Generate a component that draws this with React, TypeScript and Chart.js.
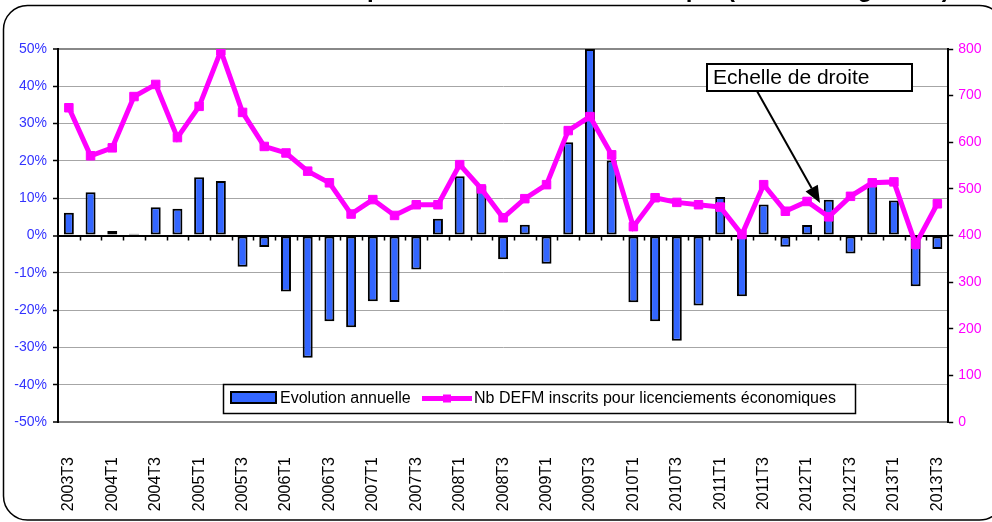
import React, { useEffect, useRef } from 'react';
import { Chart, registerables } from 'chart.js';

Chart.register(...registerables);

const FONT = "'Liberation Sans', Arial, Helvetica, sans-serif";

const quarters = [
  '2003T3', '2003T4', '2004T1', '2004T2', '2004T3', '2004T4', '2005T1', '2005T2',
  '2005T3', '2005T4', '2006T1', '2006T2', '2006T3', '2006T4', '2007T1', '2007T2',
  '2007T3', '2007T4', '2008T1', '2008T2', '2008T3', '2008T4', '2009T1', '2009T2',
  '2009T3', '2009T4', '2010T1', '2010T2', '2010T3', '2010T4', '2011T1', '2011T2',
  '2011T3', '2011T4', '2012T1', '2012T2', '2012T3', '2012T4', '2013T1', '2013T2',
  '2013T3',
];

// Evolution annuelle (%), left axis
const evolutionAnnuelle = [
  6.1, 11.6, 1.2, 0.5, 7.6, 7.2, 15.6, 14.6,
  -8.4, -3.1, -15.0, -32.8, -23.0, -24.6, -17.6, -17.8,
  -9.1, 4.5, 15.9, 13.4, -6.4, 2.9, -7.6, 25.0,
  50.0, 20.1, -17.9, -23.0, -28.2, -18.8, 10.3, -16.3,
  8.3, -3.0, 2.8, 9.6, -4.8, 13.8, 9.4, -13.6,
  -3.6,
];

// Nb DEFM inscrits pour licenciements économiques, right axis
const nbDefm = [
  674, 571, 588, 698, 724, 610, 677, 796,
  664, 591, 577, 538, 513, 446, 477, 443,
  466, 466, 552, 500, 438, 479, 509, 625,
  655, 573, 419, 481, 471, 466, 461, 402,
  509, 452, 473, 440, 484, 513, 515, 381,
  468,
];

const seriesNames = ['Evolution annuelle', 'Nb DEFM inscrits pour licenciements économiques'];
const annotationText = 'Echelle de droite';
const titleText = 'Nombre de DEFM inscrits pour licenciement économique (échelle de gauche)';

const BAR_COLOR = '#3366FF';
const LINE_COLOR = '#FF00FF';

const framePlugin = {
  id: 'frame',
  beforeDraw(chart: any) {
    const ctx = chart.ctx;
    ctx.save();
    ctx.fillStyle = '#ffffff';
    ctx.fillRect(0, 0, chart.width, chart.height);
    ctx.beginPath();
    ctx.roundRect(3.5, 5.5, 1000, 514.5, 24);
    ctx.strokeStyle = '#000';
    ctx.lineWidth = 1.5;
    ctx.stroke();
    ctx.font = `bold 24px ${FONT}`;
    ctx.fillStyle = '#000';
    ctx.textBaseline = 'alphabetic';
    const prefix = titleText.slice(0, titleText.indexOf('('));
    const x0 = 727 - ctx.measureText(prefix).width;
    ctx.fillText(titleText, x0, -3);
    ctx.restore();
  },
};

const zeroTicksPlugin = {
  id: 'zeroTicks',
  beforeDatasetsDraw(chart: any) {
    const x = chart.scales.x;
    const y = chart.scales.y;
    const ctx = chart.ctx;
    const step = x.getPixelForValue(1) - x.getPixelForValue(0);
    const y0 = y.getPixelForValue(0);
    ctx.save();
    ctx.strokeStyle = '#000';
    ctx.lineWidth = 1.5;
    ctx.beginPath();
    for (let i = 1; i < quarters.length; i++) {
      const px = Math.round(x.getPixelForValue(i) - step / 2) + 0.5;
      ctx.moveTo(px, y0);
      ctx.lineTo(px, y0 + 5);
    }
    ctx.stroke();
    ctx.restore();
  },
};

const overlayPlugin = {
  id: 'overlay',
  afterDraw(chart: any) {
    const ctx = chart.ctx;
    ctx.save();
    ctx.fillStyle = '#fff';
    ctx.fillRect(223.5, 384.5, 632, 29);
    ctx.strokeStyle = '#000';
    ctx.lineWidth = 1.5;
    ctx.strokeRect(223.5, 384.5, 632, 29);
    ctx.fillStyle = BAR_COLOR;
    ctx.fillRect(231, 392, 45, 11);
    ctx.lineWidth = 2;
    ctx.strokeRect(231, 392, 45, 11);
    ctx.font = `16px ${FONT}`;
    ctx.fillStyle = '#000';
    ctx.textBaseline = 'middle';
    ctx.textAlign = 'left';
    ctx.fillText(seriesNames[0], 280, 399);
    ctx.strokeStyle = LINE_COLOR;
    ctx.lineWidth = 5;
    ctx.beginPath();
    ctx.moveTo(422, 398.5);
    ctx.lineTo(472, 398.5);
    ctx.stroke();
    ctx.fillStyle = LINE_COLOR;
    ctx.fillRect(443, 394.5, 8, 8);
    ctx.fillStyle = '#000';
    ctx.fillText(seriesNames[1], 474, 399);

    ctx.fillStyle = '#fff';
    ctx.fillRect(707, 64, 205, 27);
    ctx.strokeStyle = '#000';
    ctx.lineWidth = 2;
    ctx.strokeRect(707, 64, 205, 27);
    ctx.fillStyle = '#000';
    ctx.font = `21px ${FONT}`;
    ctx.fillText(annotationText, 713, 78);

    const ax = 757, ay = 91, bx = 820, by = 203;
    const ang = Math.atan2(by - ay, bx - ax);
    const headLen = 17, headW = 7;
    const hx = bx - headLen * Math.cos(ang);
    const hy = by - headLen * Math.sin(ang);
    ctx.strokeStyle = '#000';
    ctx.lineWidth = 2;
    ctx.beginPath();
    ctx.moveTo(ax, ay);
    ctx.lineTo(hx, hy);
    ctx.stroke();
    ctx.beginPath();
    ctx.moveTo(bx, by);
    ctx.lineTo(hx + headW * Math.sin(ang), hy - headW * Math.cos(ang));
    ctx.lineTo(hx - headW * Math.sin(ang), hy + headW * Math.cos(ang));
    ctx.closePath();
    ctx.fillStyle = '#000';
    ctx.fill();
    ctx.restore();
  },
};

export default function App() {
  const canvasRef = useRef<HTMLCanvasElement | null>(null);

  useEffect(() => {
    const canvas = canvasRef.current;
    if (!canvas) return;
    const chart = new Chart(canvas, {
      type: 'bar',
      data: {
        labels: quarters,
        datasets: [
          {
            type: 'bar',
            label: seriesNames[0],
            data: evolutionAnnuelle,
            yAxisID: 'y',
            backgroundColor: BAR_COLOR,
            borderColor: '#000',
            borderWidth: 2,
            borderSkipped: false,
            barPercentage: 0.46,
            categoryPercentage: 1,
            order: 2,
          },
          {
            type: 'line',
            label: seriesNames[1],
            data: nbDefm,
            yAxisID: 'y1',
            borderColor: LINE_COLOR,
            backgroundColor: LINE_COLOR,
            borderWidth: 5,
            tension: 0,
            pointStyle: 'rect',
            pointRadius: 6,
            pointBorderWidth: 1,
            pointBorderColor: LINE_COLOR,
            pointBackgroundColor: LINE_COLOR,
            order: 1,
          } as any,
        ],
      },
      options: {
        responsive: false,
        animation: false,
        layout: { padding: { top: 49, left: 0, right: 0, bottom: 0 } },
        plugins: {
          legend: { display: false },
          tooltip: { enabled: false },
          title: { display: false },
        },
        scales: {
          x: {
            type: 'category',
            grid: { display: false, drawTicks: false },
            border: { display: false },
            ticks: {
              autoSkip: false,
              maxRotation: 90,
              minRotation: 90,
              padding: 35,
              color: '#000',
              font: { family: FONT, size: 16 },
              callback: (_v: any, i: number) => (i % 2 === 0 ? quarters[i] : ''),
            },
            afterFit: (s: any) => {
              s.height = 100;
            },
          },
          y: {
            type: 'linear',
            position: 'left',
            min: -50,
            max: 50,
            ticks: {
              stepSize: 10,
              color: '#3333FF',
              font: { family: FONT, size: 14 },
              padding: 6,
              callback: (v: any) => `${v}%`,
            },
            grid: {
              color: (c: any) =>
                c.tick && c.tick.value === 0
                  ? '#000'
                  : c.tick && Math.abs(c.tick.value) === 50
                  ? '#888888'
                  : '#a6a6a6',
              lineWidth: (c: any) =>
                c.tick && (c.tick.value === 0 || Math.abs(c.tick.value) === 50) ? 2 : 1,
              tickColor: '#000',
              tickLength: 5,
              tickWidth: 1.5,
            },
            border: { display: true, color: '#000', width: 2 },
            afterFit: (s: any) => {
              s.width = 58;
            },
          },
          y1: {
            type: 'linear',
            position: 'right',
            min: 0,
            max: 800,
            ticks: {
              stepSize: 100,
              color: '#FF00FF',
              font: { family: FONT, size: 14 },
              padding: 5,
            },
            grid: {
              drawOnChartArea: false,
              tickColor: '#000',
              tickLength: 5,
              tickWidth: 1.5,
            },
            border: { display: true, color: '#000', width: 2 },
            afterFit: (s: any) => {
              s.width = 37;
            },
          },
        },
      } as any,
      plugins: [framePlugin, zeroTicksPlugin, overlayPlugin],
    });
    return () => chart.destroy();
  }, []);

  return (
    <div style={{ position: 'absolute', left: 0, top: 0, width: 992, height: 522, overflow: 'hidden' }}>
      <canvas ref={canvasRef} width={992} height={522} style={{ display: 'block' }} />
    </div>
  );
}
